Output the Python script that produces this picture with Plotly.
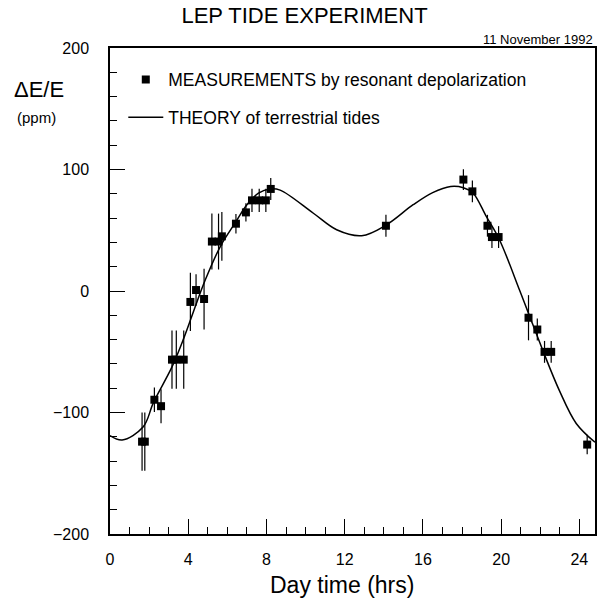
import plotly.graph_objects as go

# ---------------- data ----------------
meas_hours = [1.64, 1.78, 2.27, 2.61, 3.17, 3.39, 3.77, 4.11, 4.40, 4.81,
              5.21, 5.55, 5.72, 6.44, 6.95, 7.26, 7.63, 7.97, 8.22,
              14.11, 18.07, 18.53, 19.30, 19.53, 19.87,
              21.40, 21.85, 22.22, 22.56, 24.40]
meas_ppm = [-124, -124, -89.5, -94.8, -56.5, -56.5, -56.5, -9, 0.8, -6.6,
            40.7, 40.7, 45, 55.4, 64.7, 74.6, 74.6, 74.6, 84,
            53.7, 91.7, 82, 53.7, 44.4, 44.4,
            -22, -31.7, -50.1, -50.1, -126.4]
meas_err = [24, 24, 10, 14, 24, 24, 24, 24, 13, 25,
            23, 23, 20, 8, 7.5, 9.5, 9.5, 9.5, 9,
            9, 8.5, 9, 9, 9, 9,
            18.6, 9, 9, 9, 8]

theory_hours = [0.0, 0.62, 1.69, 2.23, 3.17, 3.77, 4.45, 4.87, 5.64, 6.40,
                7.0, 7.59, 8.19, 8.70, 10.40, 11.59, 12.87, 14.14, 15.50,
                16.5, 17.42, 18.07, 18.56, 19.24, 19.92, 20.94, 21.40,
                22.13, 22.98, 23.84, 24.8]
theory_ppm = [-119, -122.6, -112, -91.5, -62.5, -39, -8.8, 9, 36.6, 56,
              71, 80.5, 84, 83, 64, 50.4, 45.5, 54.5, 71,
              81, 86, 85, 80.7, 61.4, 42, 0.8, -18.4,
              -48.8, -82, -109, -124.5]

x_ticks = [0, 4, 8, 12, 16, 20, 24]
y_ticks = [-200, -100, 0, 100, 200]

title_text = "LEP TIDE EXPERIMENT"
date_text = "11 November 1992"
x_title = "Day time (hrs)"
y_title = "ΔE/E"
y_unit = "(ppm)"
meas_name = "MEASUREMENTS by resonant depolarization"
theory_name = "THEORY of terrestrial tides"

# ---------------- layout geometry ----------------
W, H = 609, 601
L, R, T, B = 110, 13.5, 48, 67.3
PW, PH = W - L - R, H - T - B


def px(x):
    return (x - L) / PW


def py(y):
    return 1 - (y - T) / PH


FONT = "Liberation Sans, Arial, sans-serif"

fig = go.Figure()

fig.add_trace(go.Scatter(
    x=theory_hours, y=theory_ppm, mode="lines", name=theory_name,
    line=dict(color="black", width=1.5, shape="spline", smoothing=1.0),
    legendgroup="b", legendrank=2,
))

fig.add_trace(go.Scatter(
    x=meas_hours, y=meas_ppm, mode="markers", name=meas_name,
    marker=dict(symbol="square", size=8, color="black"),
    error_y=dict(type="data", array=meas_err, visible=True,
                 thickness=1.2, width=0, color="black"),
    legendgroup="a", legendrank=1,
))

axis_common = dict(
    showgrid=False, zeroline=False, showline=True, linecolor="black",
    linewidth=1.5, mirror=True, ticks="inside", tickcolor="black",
    tickwidth=1.2, ticklen=15,
    tickfont=dict(family=FONT, size=16, color="black"),
)

fig.update_xaxes(
    range=[0, 24.8], tickvals=x_ticks, ticklabelstandoff=10,
    minor=dict(dtick=1, ticks="inside", ticklen=7, tickwidth=1.2,
               tickcolor="black"),
    **axis_common,
)
fig.update_yaxes(
    range=[-200, 200], tickvals=y_ticks, ticklabelstandoff=16,
    minor=dict(dtick=20, ticks="inside", ticklen=7, tickwidth=1.2,
               tickcolor="black"),
    **axis_common,
)

fig.update_layout(
    width=W, height=H,
    margin=dict(l=L, r=R, t=T, b=B, pad=0),
    paper_bgcolor="white", plot_bgcolor="white",
    font=dict(family=FONT, color="black"),
    title=dict(text=title_text, x=0.5, xref="container", xanchor="center",
               y=1 - 15.7 / H, yref="container", yanchor="middle",
               font=dict(family=FONT, size=22, color="black")),
    showlegend=True,
    legend=dict(x=px(123.3), y=py(61.5), xanchor="left", yanchor="top",
                bgcolor="rgba(0,0,0,0)", borderwidth=0, itemwidth=35,
                font=dict(family=FONT, size=17.5, color="black"),
                tracegroupgap=12, itemclick=False),
    annotations=[
        dict(text=date_text, x=px(595.5), y=py(39.5), xref="paper", yref="paper",
             xanchor="right", yanchor="middle", showarrow=False,
             font=dict(family=FONT, size=13, color="black")),
        dict(text=y_title, x=px(39), y=py(89.3), xref="paper", yref="paper",
             xanchor="center", yanchor="middle", showarrow=False,
             font=dict(family=FONT, size=22, color="black")),
        dict(text=y_unit, x=px(36.7), y=py(117.3), xref="paper", yref="paper",
             xanchor="center", yanchor="middle", showarrow=False,
             font=dict(family=FONT, size=15, color="black")),
        dict(text=x_title, x=px(342.5), y=py(585), xref="paper", yref="paper",
             xanchor="center", yanchor="middle", showarrow=False,
             font=dict(family=FONT, size=23, color="black")),
    ],
)

fig.write_html("out.html")
